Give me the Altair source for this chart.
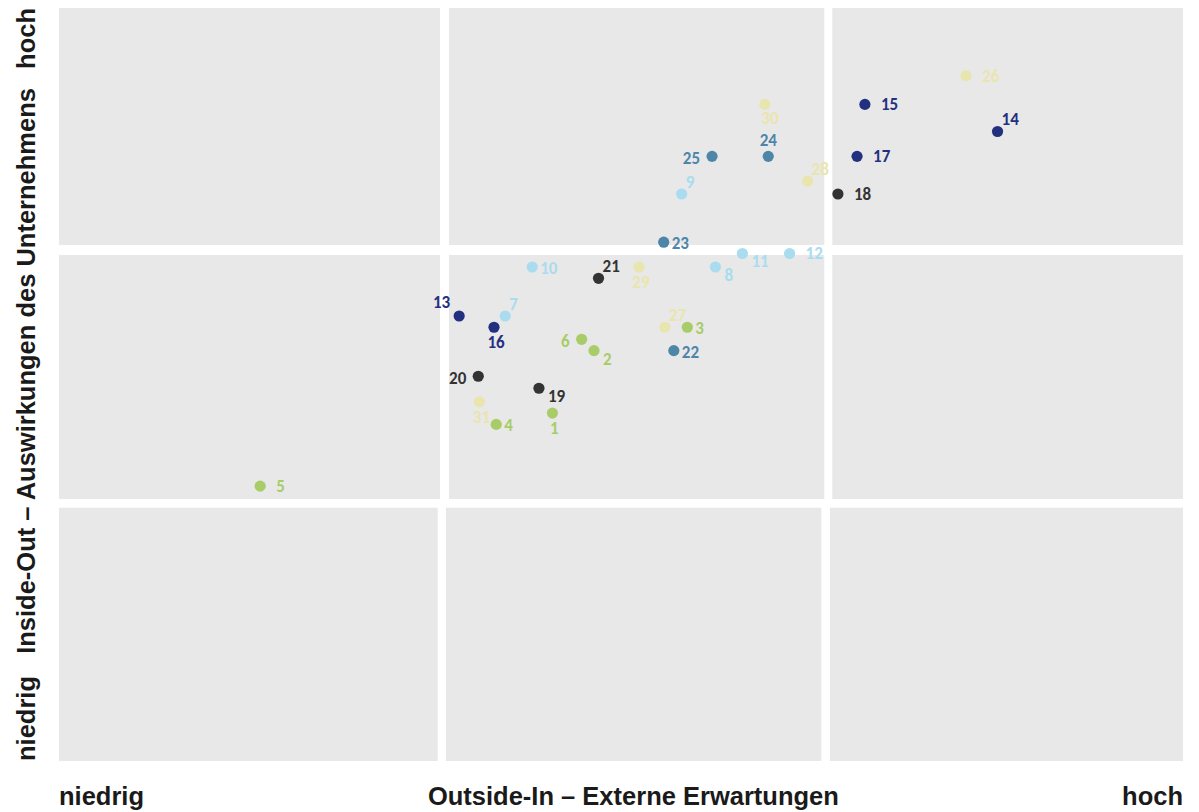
import altair as alt
import pandas as pd

# ---------------- data ----------------
ids = list(range(1, 32))
x_vals = [43.9, 47.6, 55.9, 38.9, 17.9, 46.5, 39.7, 58.4, 55.4, 42.1,
          60.8, 65.0, 35.6, 83.5, 71.7, 38.7, 71.0, 69.3, 42.7, 37.3,
          48.0, 54.7, 53.8, 63.1, 58.1, 80.7, 53.9, 66.6, 51.6, 62.8, 37.4]
y_vals = [46.2, 54.5, 57.6, 44.7, 36.5, 56.0, 59.1, 65.6, 75.3, 65.6,
          67.4, 67.4, 59.1, 83.6, 87.2, 57.6, 80.3, 75.3, 49.5, 51.1,
          64.1, 54.5, 68.9, 80.3, 80.3, 91.0, 57.6, 77.0, 65.6, 87.2, 47.7]
groups = ["G1"] * 6 + ["G2"] * 6 + ["G3"] * 5 + ["G4"] * 4 + ["G5"] * 4 + ["G6"] * 6
label_place = ["b", "br", "r", "r", "R", "l", "ar", "br", "ar", "r",
               "br", "R", "al", "ar", "R", "b", "R", "R", "br", "l",
               "ar", "r", "r", "a", "l", "R", "ar", "ar", "b", "bb", "b"]

group_names = ["G1", "G2", "G3", "G4", "G5", "G6"]
group_colors = ["#a8cc68", "#a9dcee", "#22307f", "#333333", "#4e86a8", "#e9e5ae"]

# quadrant grid cells (data units)
cell_x0 = [0, 34.7, 68.8, 0, 34.7, 68.8, 0, 34.43, 68.59]
cell_x1 = [33.9, 68.09, 100, 33.9, 68.09, 100, 33.69, 67.82, 100]
cell_y0 = [68.53, 68.53, 68.53, 34.79, 34.79, 34.79, 0, 0, 0]
cell_y1 = [100, 100, 100, 67.2, 67.2, 67.2, 33.64, 33.64, 33.64]

x_axis_text = ["niedrig", "Outside-In – Externe Erwartungen", "hoch"]
x_axis_pos = [0, 51.1, 100]
y_axis_text = ["niedrig", "Inside-Out – Auswirkungen des Unternehmens", "hoch"]
y_axis_pos = [0, 51.8, 100]

# ---------------- build ----------------
pts = pd.DataFrame({"id": ids, "x": x_vals, "y": y_vals, "group": groups,
                    "place": label_place, "label": [str(i) for i in ids]})
cells = pd.DataFrame({"x0": cell_x0, "x1": cell_x1, "y0": cell_y0, "y1": cell_y1})

xs = alt.Scale(domain=[0, 100], nice=False, zero=False)
ys = alt.Scale(domain=[0, 100], nice=False, zero=False)
cs = alt.Scale(domain=group_names, range=group_colors)

X = alt.X("x:Q", scale=xs, axis=None)
Y = alt.Y("y:Q", scale=ys, axis=None)

grid = alt.Chart(cells).mark_rect(color="#e8e8e8").encode(
    x=alt.X("x0:Q", scale=xs, axis=None), x2="x1",
    y=alt.Y("y0:Q", scale=ys, axis=None), y2="y1")

dots = alt.Chart(pts).mark_circle(size=125, opacity=1).encode(
    x=X, y=Y, color=alt.Color("group:N", scale=cs, legend=None))

LABEL_FONT = "Carlito, Lato, sans-serif"
placements = {
    "R": ("left", 16, 1),
    "r": ("left", 8, 2),
    "ar": ("left", 4, -11),
    "br": ("left", 9, 9),
    "b": ("center", 2, 16),
    "bb": ("center", 5, 15),
    "a": ("center", 0, -15),
    "l": ("right", -12, 3),
    "al": ("right", -9, -13),
}
label_layers = []
for key, (al, dx, dy) in placements.items():
    label_layers.append(
        alt.Chart(pts).transform_filter(alt.datum.place == key)
        .mark_text(align=al, baseline="middle", dx=dx, dy=dy, font=LABEL_FONT,
                   fontSize=17, fontWeight="bold")
        .encode(x=X, y=Y, text="label:N",
                color=alt.Color("group:N", scale=cs, legend=None)))

AX_FONT = "Liberation Sans, Arial, sans-serif"
xdf = pd.DataFrame({"t": x_axis_text, "x": x_axis_pos})
ydf = pd.DataFrame({"t": y_axis_text, "y": y_axis_pos})
ax_layers = []
for i, al in enumerate(["left", "center", "right"]):
    ax_layers.append(
        alt.Chart(xdf.iloc[[i]]).mark_text(align=al, baseline="alphabetic", font=AX_FONT,
                                            fontSize=25.5, fontWeight="bold", color="#1a1a1a")
        .encode(x=X, y=alt.value(797), text="t:N"))
    ax_layers.append(
        alt.Chart(ydf.iloc[[i]]).mark_text(align=al, baseline="alphabetic", angle=270, font=AX_FONT,
                                            fontSize=25.5, fontWeight="bold", color="#1a1a1a")
        .encode(y=Y, x=alt.value(-24), text="t:N"))

chart = alt.layer(grid, dots, *label_layers, *ax_layers).properties(
    width=1124, height=753,
    autosize=alt.AutoSizeParams(type="none"),
    padding={"left": 51, "top": 0, "right": 8, "bottom": 50},
).configure_view(stroke=None)

chart.save("out.html", embed_options={"renderer": "svg", "actions": False})
